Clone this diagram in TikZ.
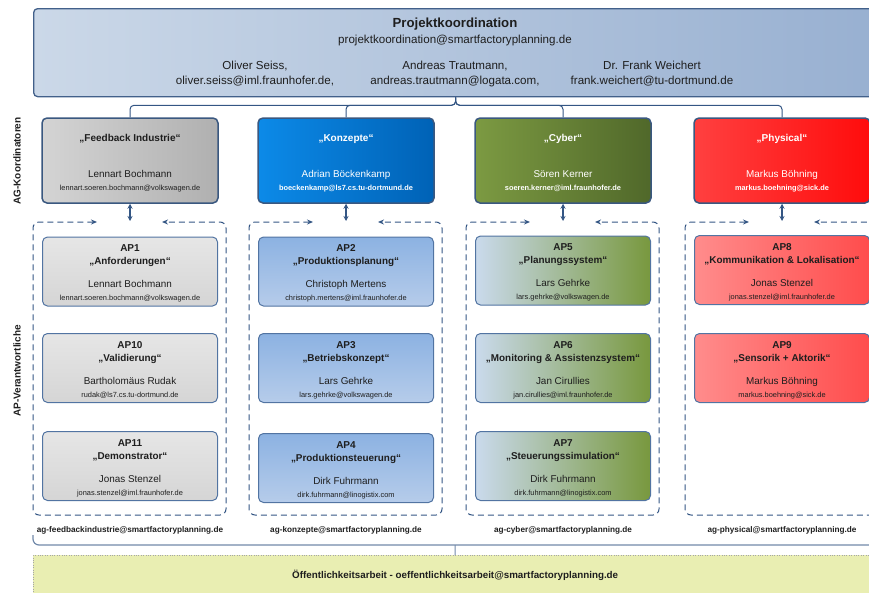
\documentclass[tikz,border=0pt]{standalone}
\usepackage{fontspec}
\setmainfont{Liberation Sans}
\usetikzlibrary{arrows.meta}

\definecolor{pkleft}{RGB}{203,216,232}
\definecolor{pkright}{RGB}{152,176,209}
\definecolor{pkborder}{RGB}{66,96,138}
\definecolor{linkblue}{RGB}{52,86,132}
\definecolor{agborder}{RGB}{58,88,128}
\definecolor{apborder}{RGB}{82,116,162}
\definecolor{fbleft}{RGB}{212,212,212}
\definecolor{fbright}{RGB}{176,176,176}
\definecolor{koleft}{RGB}{12,138,232}
\definecolor{koright}{RGB}{0,98,182}
\definecolor{cyleft}{RGB}{124,154,66}
\definecolor{cyright}{RGB}{80,104,42}
\definecolor{phleft}{RGB}{255,64,64}
\definecolor{phright}{RGB}{255,12,12}
\definecolor{apgreytop}{RGB}{230,230,230}
\definecolor{apgreybot}{RGB}{213,213,213}
\definecolor{apbluetop}{RGB}{140,178,226}
\definecolor{apbluebot}{RGB}{182,204,234}
\definecolor{apcyleft}{RGB}{202,218,236}
\definecolor{apcyright}{RGB}{120,152,62}
\definecolor{apphleft}{RGB}{255,140,140}
\definecolor{apphright}{RGB}{255,76,76}
\definecolor{pubfill}{RGB}{233,238,178}
\definecolor{inkgrey}{RGB}{30,30,30}

\tikzset{
  conn/.style={draw=linkblue, line width=1pt, rounded corners=4pt},
  pkbox/.style={draw=pkborder, line width=1.3pt, rounded corners=4pt,
    left color=pkleft, right color=pkright, minimum width=844, minimum height=88},
  pktext/.style={align=center, text=inkgrey, font=\fontsize{11.6}{16}\selectfont},
  agbox/.style={draw=agborder, line width=1.5pt, rounded corners=5pt,
    minimum width=176, minimum height=85, align=center, text=inkgrey,
    font=\fontsize{9.9}{13}\selectfont},
  apbox/.style={draw=apborder, line width=1pt, rounded corners=5pt,
    minimum width=175, minimum height=69, align=center, text=inkgrey,
    font=\fontsize{9.9}{13}\selectfont},
  frame/.style={draw=linkblue, line width=1pt, dash pattern=on 6pt off 4pt,
    rounded corners=6pt, {Stealth[length=6pt,width=5pt]}-{Stealth[length=6pt,width=5pt]}},
  dbl/.style={draw=linkblue, line width=1.2pt,
    {Stealth[length=5pt,width=5pt]}-{Stealth[length=5pt,width=5pt]}},
  mail/.style={text=inkgrey, font=\fontsize{8.2}{10}\selectfont\bfseries},
  sidelabel/.style={rotate=90, text=inkgrey, font=\fontsize{10}{12}\selectfont\bfseries},
  brace/.style={draw=linkblue!70, line width=1.2pt, rounded corners=6pt},
  pubbox/.style={draw=gray!70, dotted, fill=pubfill, minimum width=844, minimum height=40,
    text=inkgrey, font=\fontsize{9.8}{12}\selectfont\bfseries},
  fbag/.style={left color=fbleft, right color=fbright},
  koag/.style={left color=koleft, right color=koright, text=white},
  cyag/.style={left color=cyleft, right color=cyright, text=white},
  phag/.style={left color=phleft, right color=phright, text=white},
  fbap/.style={top color=apgreytop, bottom color=apgreybot},
  koap/.style={top color=apbluetop, bottom color=apbluebot},
  cyap/.style={left color=apcyleft, right color=apcyright},
  phap/.style={left color=apphleft, right color=apphright}
}

\newcommand{\agbox}[6]{
  \node [agbox,#3] (#1) at (#2,160.5)
    {\rule{0pt}{13pt}{\bfseries\fontsize{10}{13}\selectfont „#4“}\\[23pt]#5\\{\fontsize{7.4}{8}\selectfont #6}};
}
\newcommand{\apbox}[8]{
  \node [apbox,#4] (#1) at (#2,#3)
    {\rule{0pt}{11pt}{\bfseries\fontsize{10}{13}\selectfont #5}\\{\bfseries\fontsize{9.9}{13}\selectfont „#6“}\\[10pt]#7\\{\fontsize{7.4}{8}\selectfont #8}};
}
\newcommand{\agframe}[3]{
  \coordinate (#1) at (#2,221);
  \draw [frame] (#2-33,222) -| (#2-97,515) -| (#2+96,222) -- (#2+32,222);
  \node [mail] (#1mail) at (#2,530) {#3};
}

\begin{document}
\begin{tikzpicture}[x=1pt,y=-1pt]
  \useasboundingbox (0,0) rectangle (869,592);
  \clip (0,0) rectangle (869,592);

  \node [pkbox,anchor=north west] (pk) at (33,8) {};
  \node [pktext] (pkt) at (455,32)
    {{\bfseries\fontsize{13.2}{16}\selectfont Projektkoordination}\\projektkoordination@smartfactoryplanning.de};
  \node [pktext,font=\fontsize{11.6}{15}\selectfont] (seiss) at (255,74) {Oliver Seiss,\\oliver.seiss@iml.fraunhofer.de,};
  \node [pktext,font=\fontsize{11.6}{15}\selectfont] (trautmann) at (455,74) {Andreas Trautmann,\\andreas.trautmann@logata.com,};
  \node [pktext,font=\fontsize{11.6}{15}\selectfont] (weichert) at (652,74) {Dr. Frank Weichert\\frank.weichert@tu-dortmund.de};

  \node [sidelabel] (agk) at (17,161) {AG-Koordinatoren};
  \node [sidelabel] (apv) at (17,371) {AP-Verantwortliche};

  \agbox{fb}{130}{fbag}{Feedback Industrie}{Lennart Bochmann}{lennart.soeren.bochmann@volkswagen.de}
  \agbox{ko}{346}{koag}{Konzepte}{Adrian Böckenkamp}{\bfseries boeckenkamp@ls7.cs.tu-dortmund.de}
  \agbox{cy}{563}{cyag}{Cyber}{Sören Kerner}{\bfseries soeren.kerner@iml.fraunhofer.de}
  \agbox{ph}{782}{phag}{Physical}{Markus Böhning}{\bfseries markus.boehning@sick.de}

  \foreach \g in {fb,ko,cy,ph}
    \draw [conn] (pk.south) -- ++(0,8) -| (\g.north);

  \agframe{fbtop}{130}{ag-feedbackindustrie@smartfactoryplanning.de}
  \agframe{kotop}{346}{ag-konzepte@smartfactoryplanning.de}
  \agframe{cytop}{563}{ag-cyber@smartfactoryplanning.de}
  \agframe{phtop}{782}{ag-physical@smartfactoryplanning.de}

  \foreach \g in {fb,ko,cy,ph}
    \draw [dbl] (\g.south) -- (\g top);

  \apbox{ap1}{130}{271.5}{fbap}{AP1}{Anforderungen}{Lennart Bochmann}{lennart.soeren.bochmann@volkswagen.de}
  \apbox{ap10}{130}{368}{fbap}{AP10}{Validierung}{Bartholomäus Rudak}{rudak@ls7.cs.tu-dortmund.de}
  \apbox{ap11}{130}{466}{fbap}{AP11}{Demonstrator}{Jonas Stenzel}{jonas.stenzel@iml.fraunhofer.de}
  \apbox{ap2}{346}{271.5}{koap}{AP2}{Produktionsplanung}{Christoph Mertens}{christoph.mertens@iml.fraunhofer.de}
  \apbox{ap3}{346}{368}{koap}{AP3}{Betriebskonzept}{Lars Gehrke}{lars.gehrke@volkswagen.de}
  \apbox{ap4}{346}{468}{koap}{AP4}{Produktionsteuerung}{Dirk Fuhrmann}{dirk.fuhrmann@linogistix.com}
  \apbox{ap5}{563}{270.5}{cyap}{AP5}{Planungssystem}{Lars Gehrke}{lars.gehrke@volkswagen.de}
  \apbox{ap6}{563}{368}{cyap}{AP6}{Monitoring \& Assistenzsystem}{Jan Cirullies}{jan.cirullies@iml.fraunhofer.de}
  \apbox{ap7}{563}{466}{cyap}{AP7}{Steuerungssimulation}{Dirk Fuhrmann}{dirk.fuhrmann@linogistix.com}
  \apbox{ap8}{782}{270}{phap}{AP8}{Kommunikation \& Lokalisation}{Jonas Stenzel}{jonas.stenzel@iml.fraunhofer.de}
  \apbox{ap9}{782}{368}{phap}{AP9}{Sensorik + Aktorik}{Markus Böhning}{markus.boehning@sick.de}

  \coordinate (bt) at (455,545);
  \draw [brace] (33,535) |- (900,545);
  \node [pubbox,anchor=north west] (oa) at (33,555)
    {Öffentlichkeitsarbeit - oeffentlichkeitsarbeit@smartfactoryplanning.de};
  \draw [brace,line width=1pt] (bt) -- (oa.north);
\end{tikzpicture}
\end{document}
